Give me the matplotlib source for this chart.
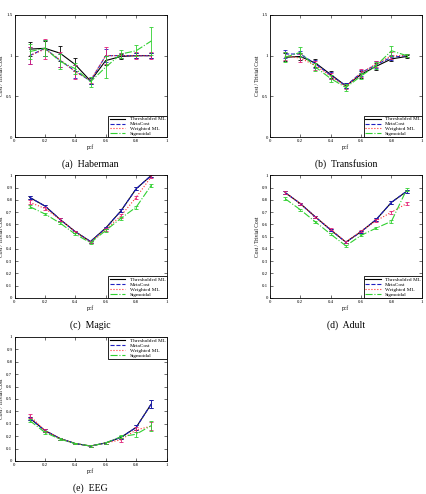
import matplotlib
matplotlib.use('Agg')
import matplotlib.pyplot as plt

plt.rcParams['font.family'] = ['Liberation Serif', 'DejaVu Serif']

pcf = [0.1, 0.2, 0.3, 0.4, 0.5, 0.6, 0.7, 0.8, 0.9]
methods = ['Thresholded ML', 'MetaCost', 'Weighted ML', 'Sigmoidal']

# mean cost ratio per dataset, one list per method
haberman = [
    [1.08, 1.09, 1.03, 0.89, 0.69, 0.94, 0.99, 1.00, 1.00],
    [1.00, 1.09, 0.94, 0.81, 0.69, 1.00, 1.00, 1.00, 1.00],
    [1.00, 1.08, 0.95, 0.80, 0.70, 1.00, 1.00, 1.00, 1.00],
    [1.05, 1.09, 0.93, 0.84, 0.68, 0.86, 1.02, 1.06, 1.18],
]
haberman_err = [
    [0.09, 0.09, 0.09, 0.08, 0.04, 0.05, 0.03, 0.03, 0.03],
    [0.10, 0.10, 0.08, 0.08, 0.04, 0.08, 0.03, 0.03, 0.03],
    [0.10, 0.12, 0.09, 0.08, 0.04, 0.10, 0.03, 0.04, 0.04],
    [0.09, 0.10, 0.09, 0.07, 0.06, 0.13, 0.05, 0.07, 0.17],
]
transfusion = [
    [0.98, 0.99, 0.91, 0.77, 0.63, 0.77, 0.87, 0.96, 0.99],
    [1.02, 1.02, 0.90, 0.76, 0.63, 0.79, 0.89, 0.98, 1.00],
    [1.00, 0.97, 0.88, 0.75, 0.62, 0.79, 0.90, 1.00, 1.00],
    [0.98, 1.04, 0.86, 0.72, 0.61, 0.75, 0.88, 1.06, 1.00],
]
transfusion_err = [
    [0.05, 0.04, 0.05, 0.04, 0.03, 0.04, 0.04, 0.03, 0.02],
    [0.05, 0.04, 0.05, 0.04, 0.03, 0.04, 0.04, 0.03, 0.02],
    [0.05, 0.05, 0.05, 0.04, 0.03, 0.05, 0.04, 0.04, 0.02],
    [0.06, 0.06, 0.05, 0.04, 0.04, 0.04, 0.04, 0.06, 0.02],
]
magic = [
    [0.82, 0.75, 0.64, 0.54, 0.46, 0.57, 0.71, 0.89, 1.00],
    [0.82, 0.75, 0.64, 0.54, 0.46, 0.57, 0.71, 0.89, 1.00],
    [0.78, 0.73, 0.64, 0.54, 0.455, 0.56, 0.67, 0.82, 0.99],
    [0.745, 0.685, 0.61, 0.52, 0.45, 0.55, 0.65, 0.74, 0.92],
]
magic_err = [
    [0.012, 0.01, 0.01, 0.008, 0.008, 0.01, 0.012, 0.012, 0.012],
    [0.012, 0.01, 0.01, 0.008, 0.008, 0.01, 0.012, 0.012, 0.012],
    [0.015, 0.012, 0.01, 0.008, 0.008, 0.01, 0.015, 0.015, 0.012],
    [0.012, 0.01, 0.01, 0.008, 0.008, 0.01, 0.012, 0.012, 0.012],
]
adult = [
    [0.86, 0.77, 0.66, 0.555, 0.455, 0.54, 0.64, 0.78, 0.87],
    [0.86, 0.77, 0.66, 0.555, 0.455, 0.54, 0.64, 0.78, 0.87],
    [0.86, 0.77, 0.66, 0.56, 0.455, 0.545, 0.63, 0.70, 0.77],
    [0.81, 0.72, 0.62, 0.52, 0.425, 0.51, 0.57, 0.625, 0.885],
]
adult_err = [
    [0.01, 0.008, 0.008, 0.008, 0.008, 0.008, 0.01, 0.01, 0.01],
    [0.01, 0.008, 0.008, 0.008, 0.008, 0.008, 0.01, 0.01, 0.01],
    [0.012, 0.008, 0.008, 0.008, 0.008, 0.008, 0.01, 0.012, 0.012],
    [0.01, 0.008, 0.008, 0.008, 0.008, 0.008, 0.01, 0.01, 0.01],
]
eeg = [
    [0.345, 0.245, 0.18, 0.14, 0.12, 0.145, 0.19, 0.27, 0.46],
    [0.345, 0.245, 0.18, 0.14, 0.12, 0.145, 0.19, 0.27, 0.46],
    [0.365, 0.245, 0.18, 0.14, 0.12, 0.145, 0.17, 0.25, 0.28],
    [0.325, 0.23, 0.175, 0.14, 0.12, 0.145, 0.195, 0.215, 0.285],
]
eeg_err = [
    [0.012, 0.01, 0.008, 0.006, 0.006, 0.006, 0.01, 0.02, 0.03],
    [0.012, 0.01, 0.008, 0.006, 0.006, 0.006, 0.01, 0.02, 0.03],
    [0.015, 0.01, 0.008, 0.006, 0.006, 0.006, 0.015, 0.02, 0.03],
    [0.012, 0.01, 0.008, 0.006, 0.006, 0.006, 0.01, 0.02, 0.04],
]

styles = [('k', '-'), ('#2020c0', '--'), ('#ff3030', ':'), ('#30d030', '-.')]
err_colors = ['k', '#2020c0', '#e0207a', '#30d030']


def draw(ax, means, errs, caption, ymax, yticks, loc):
    for i in range(4):
        c, ls = styles[i]
        ax.plot(pcf, means[i], color=c, linestyle=ls, linewidth=0.8,
                label=methods[i])
        ax.errorbar(pcf, means[i], yerr=errs[i], fmt='none',
                    ecolor=err_colors[i], elinewidth=0.6, capsize=1.5,
                    capthick=0.6)
    ax.set_xlim(0, 1)
    ax.set_ylim(0, ymax)
    ax.set_xticks([0, 0.2, 0.4, 0.6, 0.8, 1])
    ax.set_xticklabels(['0', '0.2', '0.4', '0.6', '0.8', '1'])
    ax.set_yticks(yticks)
    ax.set_yticklabels(['%g' % t for t in yticks])
    ax.tick_params(direction='in', top=True, right=True, labelsize=3.5,
                   length=2, width=0.4, pad=1.5)
    for s in ax.spines.values():
        s.set_linewidth(0.6)
    ax.set_xlabel('pcf', fontsize=4, labelpad=1)
    ax.set_ylabel('Cost / Trivial Cost', fontsize=4)
    ax.yaxis.set_label_coords(-0.068, 0.5)
    leg = ax.legend(loc=loc, fontsize=3.8, handlelength=3, borderpad=0.2,
                    labelspacing=0.05, borderaxespad=0, fancybox=False,
                    framealpha=1)
    leg.get_frame().set_edgecolor('k')
    leg.get_frame().set_linewidth(0.6)
    ax.text(0.5, -0.18, caption, transform=ax.transAxes, ha='center',
            va='top', fontsize=7)


fig = plt.figure(figsize=(4.27, 4.94), dpi=100)
w, h = 0.356, 0.248
ax_a = fig.add_axes([0.034, 0.722, w, h])
ax_b = fig.add_axes([0.632, 0.722, w, h])
ax_c = fig.add_axes([0.034, 0.397, w, h])
ax_d = fig.add_axes([0.632, 0.397, w, h])
ax_e = fig.add_axes([0.034, 0.067, w, 0.251])

big = [0, 0.5, 1, 1.5]
small = [0, 0.1, 0.2, 0.3, 0.4, 0.5, 0.6, 0.7, 0.8, 0.9, 1]
draw(ax_a, haberman, haberman_err, '(a)  Haberman', 1.5, big, 'lower right')
draw(ax_b, transfusion, transfusion_err, '(b)  Transfusion', 1.5, big, 'lower right')
draw(ax_c, magic, magic_err, '(c)  Magic', 1, small, 'lower right')
draw(ax_d, adult, adult_err, '(d)  Adult', 1, small, 'lower right')
draw(ax_e, eeg, eeg_err, '(e)  EEG', 1, small, 'upper right')

fig.savefig('out.png', dpi=100)
